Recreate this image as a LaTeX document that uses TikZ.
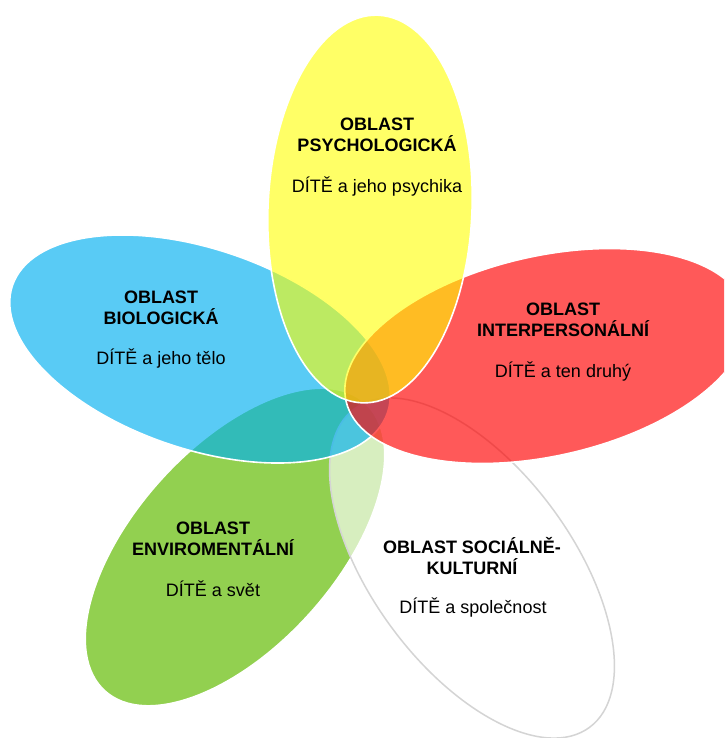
\documentclass[tikz,border=0pt]{standalone}
\usepackage{fontspec}
\setmainfont{Liberation Sans}
\definecolor{petalgreen}{HTML}{92D050}
\definecolor{petalblue}{HTML}{00B0F0}
\definecolor{petalred}{HTML}{FF0000}
\definecolor{petalyellow}{HTML}{FFFF00}
\definecolor{petalgrey}{HTML}{D4D4D4}
\tikzset{
  petal/.style={draw=white, line width=1.6pt},
  titletext/.style={anchor=base, inner sep=0pt, font=\fontsize{18pt}{21pt}\selectfont\bfseries},
  subtext/.style={anchor=base, inner sep=0pt, font=\fontsize{18pt}{21pt}\selectfont},
}
\begin{document}
\begin{tikzpicture}[x=1pt,y=-1pt]
\useasboundingbox (0,0) rectangle (724,738);
\clip (0,0) rectangle (724,738);
\fill[white] (0,0) rectangle (724,738);
% green petal (bottom)
\path[petal, fill=petalgreen, rotate around={47.9:(235,547)}]
  (235,547) ellipse [x radius=194, y radius=100];
% white petal
\path[fill=white, fill opacity=0.64, draw=petalgrey, line width=1.5pt, rotate around={-53.6:(472,568)}]
  (472,568) ellipse [x radius=198, y radius=100];
% blue petal
\path[petal, fill=petalblue, fill opacity=0.65, rotate around={-18.7:(200,349)}]
  (200,349) ellipse [x radius=198, y radius=100];
% red petal
\path[petal, fill=petalred, fill opacity=0.65, rotate around={12.7:(546,356)}]
  (546,356) ellipse [x radius=205, y radius=100];
% yellow petal (top)
\path[petal, fill=petalyellow, fill opacity=0.6, rotate around={-2.4:(370,209)}]
  (370,209) ellipse [x radius=102, y radius=194];

% texts
\node[titletext] (psyA) at (377,131) {OBLAST};
\node[titletext] (psyB) at (377,152) {PSYCHOLOGICKÁ};
\node[subtext]   (psyC) at (377,193) {DÍTĚ a jeho psychika};

\node[titletext] (bioA) at (161,303) {OBLAST};
\node[titletext] (bioB) at (161,324) {BIOLOGICKÁ};
\node[subtext]   (bioC) at (161,364) {DÍTĚ a jeho tělo};

\node[titletext] (intA) at (563,315) {OBLAST};
\node[titletext] (intB) at (563,336) {INTERPERSONÁLNÍ};
\node[subtext]   (intC) at (563,377) {DÍTĚ a ten druhý};

\node[titletext] (envA) at (213,534) {OBLAST};
\node[titletext] (envB) at (213,555) {ENVIROMENTÁLNÍ};
\node[subtext]   (envC) at (213,596) {DÍTĚ a svět};

\node[titletext] (socA) at (472,553) {OBLAST SOCIÁLNĚ-};
\node[titletext] (socB) at (472,574) {KULTURNÍ};
\node[subtext]   (socC) at (473,613) {DÍTĚ a společnost};
\end{tikzpicture}
\end{document}
